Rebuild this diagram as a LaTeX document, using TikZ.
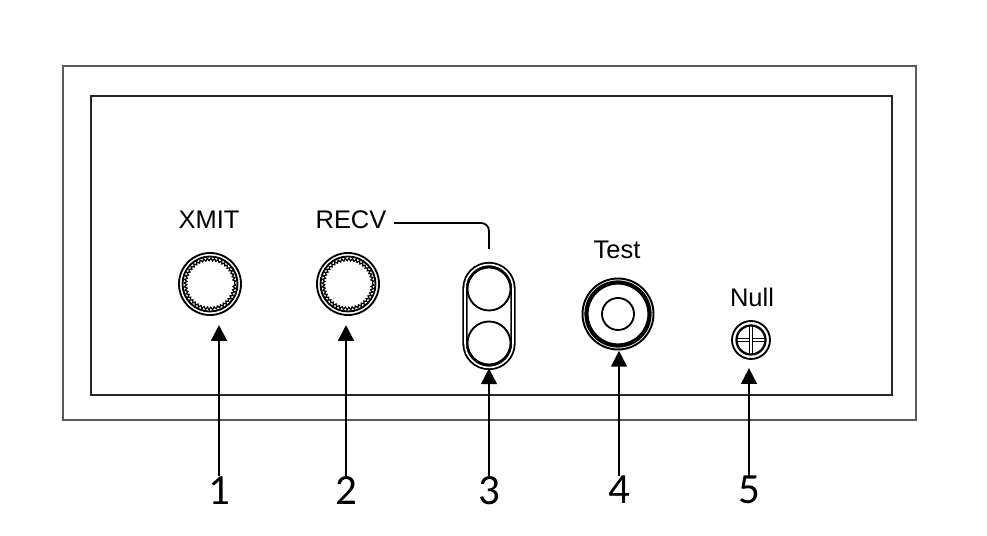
\documentclass[tikz,border=0pt]{standalone}
\usepackage{fontspec}
\setmainfont{Liberation Sans}
\newfontfamily\digitfont{Carlito}
\usetikzlibrary{arrows.meta}
\usetikzlibrary{decorations.pathmorphing}

\begin{document}
\begin{tikzpicture}[x=0.02cm, y=-0.02cm,
		panel/.style={line width=1.3pt},
		ring/.style={line width=1.05pt},
		knurl/.style={line width=0.7pt, decorate, decoration={zigzag, segment length=0.7mm, amplitude=0.25mm}},
		tag/.style={inner sep=0pt, font=\fontsize{14.5}{16}\selectfont},
		num/.style={inner sep=0pt, anchor=north, font=\digitfont\fontsize{24.5}{28}\selectfont},
		pointer/.style={-{Triangle[length=9pt, width=9pt]}, line width=1.2pt}]
	\useasboundingbox (0,0) rectangle (987,536);
	% case and front plate
	\draw[panel, draw=black!65] (63,66) rectangle (916,420);
	\draw[panel, draw=black!85] (91,96) rectangle (892,395);
	
	% XMIT
	\node[tag] (xmitlbl) at (209,220) {XMIT};
	\node[circle, inner sep=0pt, minimum size=1.24cm] (xmit) at (210,284) {};
	\draw[ring] (xmit.center) circle (31) circle (27.5);
	\draw[knurl] (xmit.center) circle (24.5);
	
	% RECV
	\node[tag] (recvlbl) at (351,220) {RECV};
	\node[circle, inner sep=0pt, minimum size=1.24cm] (recv) at (348,284) {};
	\draw[ring] (recv.center) circle (31) circle (27.5);
	\draw[knurl] (recv.center) circle (24.5);
	\coordinate (recvend) at (489,249);
	\draw[ring, rounded corners=0.16cm] ([xshift=4pt, yshift=-1.7pt]recvlbl.east) -- ([yshift=-1.7pt]recvend |- recvlbl.east) -- (recvend);
	
	% receiver pair
	\node[draw, ring, double, double distance=0.9pt, rounded corners=0.48cm,
		minimum width=0.96cm, minimum height=2.06cm, inner sep=0pt] (rcvr) at (489,316) {};
	\draw[ring] (489,289) circle (21.5);
	\draw[ring] (489,343) circle (21.5);
	
	% Test
	\node[tag] (testlbl) at (617,250) {Test};
	\node[circle, inner sep=0pt, minimum size=1.46cm] (test) at (618,314) {};
	\draw[line width=1.1pt] (test.center) circle (35.5);
	\draw[line width=2.4pt] (test.center) circle (31.5);
	\draw[ring] (test.center) circle (16);
	
	% Null
	\node[tag] (nulllbl) at (752,297) {Null};
	\node[circle, inner sep=0pt, minimum size=0.76cm] (null) at (751,340) {};
	\draw[ring] (null.center) circle (19);
	\draw[line width=1.3pt] (null.center) circle (14.5);
	\draw[line width=0.8pt, double, double distance=1.2pt] (null.center) ++(-13,0) -- ++(26,0);
	\draw[line width=0.8pt, double, double distance=1.2pt] (null.center) ++(0,-13) -- ++(0,26);
	
	% callouts
	\node[num] (n1) at (219,476) {1};
	\node[num] (n2) at (346,476) {2};
	\node[num] (n3) at (489,476) {3};
	\node[num] (n4) at (619,476) {4};
	\node[num] (n5) at (749,476) {5};
	\draw[pointer, shorten >=5.5pt] (n1.north) -- (n1.north |- xmit.south);
	\draw[pointer, shorten >=5.5pt] (n2.north) -- (n2.north |- recv.south);
	\draw[pointer] (n3.north) -- (rcvr.south);
	\draw[pointer] (n4.north) -- (n4.north |- test.south);
	\draw[pointer, shorten >=5pt] (n5.north) -- (n5.north |- null.south);
\end{tikzpicture}
\end{document}
